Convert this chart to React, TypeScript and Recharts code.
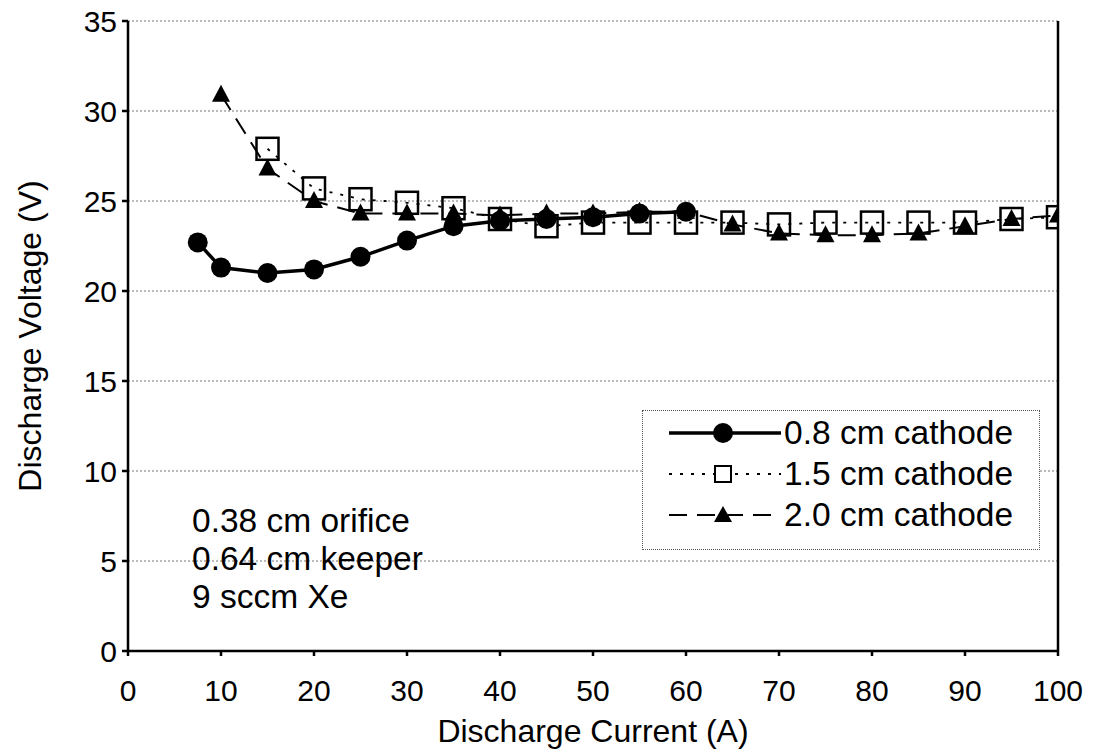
import React from 'react';
import { LineChart, Line, XAxis, YAxis, CartesianGrid, Legend, ReferenceLine } from 'recharts';

// Discharge current (A) and voltage (V)
const current08 = [7.5, 10, 15, 20, 25, 30, 35, 40, 45, 50, 55, 60];
const voltage08 = [22.7, 21.3, 21.0, 21.2, 21.9, 22.8, 23.6, 23.9, 24.0, 24.1, 24.3, 24.4];

const current15 = [15, 20, 25, 30, 35, 40, 45, 50, 55, 60, 65, 70, 75, 80, 85, 90, 95, 100];
const voltage15 = [27.9, 25.7, 25.1, 24.9, 24.6, 24.0, 23.6, 23.8, 23.8, 23.8, 23.8, 23.7, 23.8, 23.8, 23.8, 23.8, 24.0, 24.1];

const current20 = [10, 15, 20, 25, 30, 35, 40, 45, 50, 55, 60, 65, 70, 75, 80, 85, 90, 95, 100];
const voltage20 = [30.9, 26.8, 25.0, 24.3, 24.3, 24.3, 24.2, 24.3, 24.3, 24.4, 24.4, 23.7, 23.2, 23.1, 23.1, 23.2, 23.6, 24.0, 24.2];

const xTicks = [0, 10, 20, 30, 40, 50, 60, 70, 80, 90, 100];
const yTicks = [0, 5, 10, 15, 20, 25, 30, 35];
const seriesNames = ['0.8 cm cathode', '1.5 cm cathode', '2.0 cm cathode'];
const noteLines = ['0.38 cm orifice', '0.64 cm keeper', '9 sccm Xe'];

const toPoints = (xs: number[], ys: number[]) => xs.map((x, i) => ({ x, v: ys[i] }));
const data08 = toPoints(current08, voltage08);
const data15 = toPoints(current15, voltage15);
const data20 = toPoints(current20, voltage20);

const FONT = '"Liberation Sans", Arial, Helvetica, sans-serif';

const CircleDot = (props: any) => {
  const { cx, cy, index } = props;
  if (cx == null || cy == null) return <g key={index} />;
  return <circle key={index} cx={cx} cy={cy} r={10} fill="#000" />;
};

const SquareDot = (props: any) => {
  const { cx, cy, index } = props;
  if (cx == null || cy == null) return <g key={index} />;
  return <rect key={index} x={cx - 11} y={cy - 11} width={22} height={22} fill="none" stroke="#000" strokeWidth={2.5} />;
};

const TriangleDot = (props: any) => {
  const { cx, cy, index } = props;
  if (cx == null || cy == null) return <g key={index} />;
  return <path key={index} d={`M${cx},${cy - 10} L${cx + 9},${cy + 7} L${cx - 9},${cy + 7} Z`} fill="#000" />;
};

const LegendBox = () => {
  const rowTop = [22, 63, 104];
  return (
    <div
      style={{
        position: 'relative',
        width: 398,
        height: 140,
        border: '1px dotted #555',
        background: '#fff',
        boxSizing: 'border-box',
        fontFamily: FONT,
      }}
    >
      {seriesNames.map((name, i) => (
        <div key={name} style={{ position: 'absolute', left: 0, top: rowTop[i] - 20, height: 40, width: 398 }}>
          <svg width={140} height={40} style={{ position: 'absolute', left: 0, top: 0 }}>
            {i === 0 && (
              <g>
                <line x1={26} y1={20} x2={138} y2={20} stroke="#000" strokeWidth={3.5} />
                <circle cx={80} cy={20} r={10} fill="#000" />
              </g>
            )}
            {i === 1 && (
              <g>
                <line x1={26} y1={20} x2={138} y2={20} stroke="#000" strokeWidth={1.8} strokeDasharray="3 8" />
                <rect x={72} y={12} width={16} height={16} fill="#fff" stroke="#000" strokeWidth={2} />
              </g>
            )}
            {i === 2 && (
              <g>
                <line x1={26} y1={20} x2={138} y2={20} stroke="#000" strokeWidth={2} strokeDasharray="18 10" />
                <path d="M80,11 L89,27 L71,27 Z" fill="#000" />
              </g>
            )}
          </svg>
          <span
            style={{
              position: 'absolute',
              left: 141,
              top: 0,
              lineHeight: '40px',
              fontSize: 33.5,
              color: '#000',
              whiteSpace: 'nowrap',
            }}
          >
            {name}
          </span>
        </div>
      ))}
    </div>
  );
};

const YLabel = (props: any) => {
  const vb = props.viewBox || { x: 0, y: 21, width: 128, height: 630 };
  const x = 30;
  const y = vb.y + vb.height / 2;
  return (
    <text
      x={x}
      y={y}
      transform={`rotate(-90 ${x} ${y})`}
      textAnchor="middle"
      dominantBaseline="central"
      fontSize={32}
      fontFamily={FONT}
      fill="#000"
    >
      Discharge Voltage (V)
    </text>
  );
};

export default function App() {
  return (
    <div style={{ position: 'absolute', left: 0, top: 0, width: 1095, height: 755, background: '#fff', fontFamily: FONT }}>
      <LineChart width={1095} height={755} margin={{ top: 21, right: 37, bottom: 0, left: 0 }}>
        <CartesianGrid vertical={false} stroke="#777" strokeDasharray="2 2" strokeWidth={1} />
        <XAxis
          type="number"
          dataKey="x"
          domain={[0, 100]}
          ticks={xTicks}
          interval={0}
          allowDataOverflow
          height={104}
          stroke="#000"
          strokeWidth={2.5}
          tickSize={5}
          tickMargin={24}
          tick={{ fontSize: 30, fontFamily: FONT, fill: '#000' }}
          label={{ value: 'Discharge Current (A)', position: 'insideBottom', offset: 13, fontSize: 32, fontFamily: FONT, fill: '#000' }}
        />
        <YAxis
          type="number"
          dataKey="v"
          domain={[0, 35]}
          ticks={yTicks}
          interval={0}
          width={128}
          stroke="#000"
          strokeWidth={2.5}
          tickSize={6}
          tickMargin={5}
          tick={{ fontSize: 30, fontFamily: FONT, fill: '#000' }}
          label={<YLabel />}
        />
        <ReferenceLine x={100} stroke="#000" strokeWidth={2.5} />
        <Legend
          layout="vertical"
          align="center"
          verticalAlign="middle"
          content={<LegendBox />}
          wrapperStyle={{ position: 'absolute', left: 642, top: 410, width: 398, height: 140 }}
        />
        <Line
          data={data08}
          dataKey="v"
          name={seriesNames[0]}
          stroke="#000"
          strokeWidth={3.5}
          dot={<CircleDot />}
          activeDot={false}
          isAnimationActive={false}
        />
        <Line
          data={data15}
          dataKey="v"
          name={seriesNames[1]}
          stroke="#000"
          strokeWidth={1.8}
          strokeDasharray="3 8"
          dot={<SquareDot />}
          activeDot={false}
          isAnimationActive={false}
        />
        <Line
          data={data20}
          dataKey="v"
          name={seriesNames[2]}
          stroke="#000"
          strokeWidth={2}
          strokeDasharray="18 10"
          dot={<TriangleDot />}
          activeDot={false}
          isAnimationActive={false}
        />
      </LineChart>
      <div
        style={{
          position: 'absolute',
          left: 192,
          top: 502,
          fontSize: 33.5,
          lineHeight: '38px',
          color: '#000',
          fontFamily: FONT,
        }}
      >
        {noteLines.map((t) => (
          <div key={t}>{t}</div>
        ))}
      </div>
    </div>
  );
}
